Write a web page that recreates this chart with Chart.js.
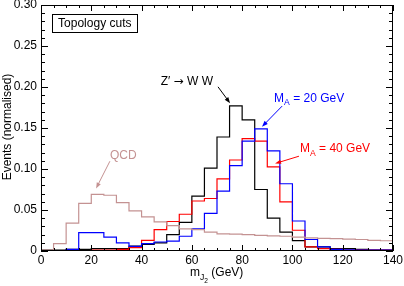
<!DOCTYPE html>
<html lang="en">
<head>
  <meta charset="UTF-8" />
  <title>Jet mass | Topology cuts</title>
  <style>
    html, body {
      margin: 0;
      padding: 0;
      background: #fff;
    }

    .chart-box {
      width: 404px;
      height: 286px;
    }
  </style>
</head>
<body>
  <div class="chart-box">
    <canvas id="massChart" width="404" height="286"></canvas>
  </div>

  <script src="https://cdn.jsdelivr.net/npm/chart.js"></script>
  <script>
    // left edges of the 5 GeV bins, plus the closing edge at 140
    const binEdges = [0, 5, 10, 15, 20, 25, 30, 35, 40, 45, 50, 55, 60, 65, 70,
                      75, 80, 85, 90, 95, 100, 105, 110, 115, 120, 125, 130, 135, 140];

    // normalised event fractions per bin
    const qcdValues = [0.001, 0.009, 0.034, 0.058, 0.069, 0.068, 0.059, 0.049, 0.0415, 0.0355,
                       0.031, 0.027, 0.026, 0.023, 0.021, 0.0205, 0.020, 0.019, 0.0185, 0.018,
                       0.017, 0.016, 0.0155, 0.015, 0.0145, 0.014, 0.013, 0.0125];
    const ma20Values = [0, 0, 0.002, 0.0224, 0.0224, 0.017, 0.0098, 0.0057, 0.009, 0.011,
                        0.012, 0.018, 0.027, 0.046, 0.073, 0.104, 0.134, 0.149, 0.122, 0.082,
                        0.0366, 0.014, 0.005, 0.002, 0.0015, 0.001, 0.001, 0.001];
    const ma40Values = [0, 0, 0, 0, 0.001, 0.001, 0.002, 0.004, 0.013, 0.026,
                        0.036, 0.0448, 0.061, 0.064, 0.088, 0.111, 0.137, 0.134, 0.1026, 0.060,
                        0.0253, 0.005, 0.003, 0.002, 0.001, 0.001, 0.001, 0.001];
    const zwwValues = [0.001, 0.001, 0.002, 0.002, 0.003, 0.003, 0.003, 0.006, 0.008, 0.010,
                       0.020, 0.035, 0.067, 0.101, 0.139, 0.177, 0.160, 0.075, 0.040, 0.023,
                       0.0127, 0.005, 0.005, 0.003, 0.003, 0.002, 0.001, 0.001];

    const xTickValues = [0, 20, 40, 60, 80, 100, 120, 140];
    const xTickLabels = ['0', '20', '40', '60', '80', '100', '120', '140'];
    const yTickValues = [0, 0.05, 0.10, 0.15, 0.20, 0.25, 0.30];
    const yTickLabels = ['0', '0.05', '0.10', '0.15', '0.20', '0.25', '0.30'];

    const QCD_COLOR = '#c49292';
    const FONT = '"Liberation Sans", Arial, Helvetica, sans-serif';
    const SYMBOL_FONT = '"DejaVu Sans", sans-serif';

    // step outline: one point per left edge, last bin repeated at the closing edge
    function toSteps(values) {
      return binEdges.map((edge, i) => ({ x: edge, y: values[Math.min(i, values.length - 1)] }));
    }

    function histo(values, color) {
      return {
        data: toSteps(values),
        borderColor: color,
        borderWidth: 1.2,
        stepped: true,
        pointRadius: 0,
        fill: false
      };
    }

    // text with optional subscripts: parts = [[text, level], ...]
    // level 0 = normal, 1 = subscript, 2 = sub-subscript, 's' = symbol font
    function drawParts(ctx, x, y, parts, size, color) {
      ctx.fillStyle = color;
      ctx.textBaseline = 'alphabetic';
      ctx.textAlign = 'left';
      parts.forEach(([txt, level]) => {
        let s = size, dy = 0, fam = FONT;
        if (level === 1) { s = size * 0.72; dy = size * 0.3; }
        if (level === 2) { s = size * 0.55; dy = size * 0.55; }
        if (level === 's') { fam = SYMBOL_FONT; }
        ctx.font = s + 'px ' + fam;
        ctx.fillText(txt, x, y + dy);
        x += ctx.measureText(txt).width;
      });
    }

    function arrow(ctx, x0, y0, x1, y1, color) {
      const ang = Math.atan2(y1 - y0, x1 - x0);
      const head = 6, half = 2.2;
      ctx.strokeStyle = color;
      ctx.fillStyle = color;
      ctx.lineWidth = 1;
      ctx.beginPath();
      ctx.moveTo(x0, y0);
      ctx.lineTo(x1 - head * 0.8 * Math.cos(ang), y1 - head * 0.8 * Math.sin(ang));
      ctx.stroke();
      ctx.beginPath();
      ctx.moveTo(x1, y1);
      ctx.lineTo(x1 - head * Math.cos(ang) + half * Math.sin(ang), y1 - head * Math.sin(ang) - half * Math.cos(ang));
      ctx.lineTo(x1 - head * Math.cos(ang) - half * Math.sin(ang), y1 - head * Math.sin(ang) + half * Math.cos(ang));
      ctx.closePath();
      ctx.fill();
    }

    // frame with inward ticks on all four sides, axis titles and labels
    const framePlugin = {
      id: 'framePlugin',
      afterDraw(chart) {
        const { ctx, chartArea: a, scales: { x, y } } = chart;
        const px = v => x.getPixelForValue(v);
        const py = v => y.getPixelForValue(v);
        ctx.save();

        ctx.strokeStyle = '#000';
        ctx.lineWidth = 1;
        ctx.strokeRect(a.left + 0.5, a.top + 0.5, a.right - a.left - 1, a.bottom - a.top - 1);

        ctx.beginPath();
        for (let v = 0; v <= 140; v += 5) {
          const xx = Math.round(px(v)) + 0.5;
          const len = v % 20 === 0 ? 6 : 3;
          ctx.moveTo(xx, a.bottom); ctx.lineTo(xx, a.bottom - len);
          ctx.moveTo(xx, a.top); ctx.lineTo(xx, a.top + len);
        }
        for (let i = 0; i <= 30; i++) {
          const yy = Math.round(py(i / 100)) + 0.5;
          const len = i % 5 === 0 ? 7 : 4;
          ctx.moveTo(a.left, yy); ctx.lineTo(a.left + len, yy);
          ctx.moveTo(a.right, yy); ctx.lineTo(a.right - len, yy);
        }
        ctx.stroke();

        // axis titles
        drawParts(ctx, 190, 276, [['m', 0], ['J', 1], ['2', 2], [' (GeV)', 0]], 12, '#000');
        ctx.save();
        ctx.translate(11, 127);
        ctx.rotate(-Math.PI / 2);
        ctx.font = '12px ' + FONT;
        ctx.fillStyle = '#000';
        ctx.textAlign = 'center';
        ctx.textBaseline = 'alphabetic';
        ctx.fillText('Events (normalised)', 0, 0);
        ctx.restore();

        // "Topology cuts" box
        ctx.font = '12px ' + FONT;
        const tx = px(6.8), ty = py(0.2735);
        const tw = ctx.measureText('Topology cuts').width;
        ctx.strokeStyle = '#000';
        ctx.strokeRect(Math.round(tx - 6) + 0.5, Math.round(ty - 13) + 0.5, Math.round(tw + 12), 18);
        drawParts(ctx, tx, ty, [['Topology cuts', 0]], 12, '#000');

        // curve labels
        drawParts(ctx, px(47.6), py(0.2023), [['Z\u2032 ', 0], ['\u2192', 's'], [' W W', 0]], 12, '#000');
        arrow(ctx, px(70.4), py(0.2002), px(75.2), py(0.1803), '#000');

        drawParts(ctx, px(92.7), py(0.182), [['M', 0], ['A', 1], [' = 20 GeV', 0]], 12, '#0000ff');
        arrow(ctx, px(95.9), py(0.1767), px(87.9), py(0.1516), '#0000ff');

        drawParts(ctx, px(103), py(0.1205), [['M', 0], ['A', 1], [' = 40 GeV', 0]], 12, '#ff0000');
        arrow(ctx, px(102.6), py(0.1156), px(93.1), py(0.1067), '#ff0000');

        drawParts(ctx, px(27.4), py(0.1126), [['QCD', 0]], 12, QCD_COLOR);
        arrow(ctx, px(27.4), py(0.1095), px(21.9), py(0.0762), QCD_COLOR);

        ctx.restore();
      }
    };

    Chart.defaults.font.family = FONT;
    Chart.defaults.font.size = 12;
    Chart.defaults.color = '#000';

    new Chart(document.getElementById('massChart').getContext('2d'), {
      type: 'line',
      data: {
        datasets: [
          histo(qcdValues, QCD_COLOR),
          histo(ma20Values, '#0000ff'),
          histo(ma40Values, '#ff0000'),
          histo(zwwValues, '#000000')
        ]
      },
      options: {
        responsive: false,
        animation: false,
        layout: { padding: { top: 5, right: 11, left: 0, bottom: 0 } },
        plugins: {
          legend: { display: false },
          tooltip: { enabled: false }
        },
        scales: {
          x: {
            type: 'linear',
            min: 0,
            max: 140,
            grid: { display: false, drawTicks: false },
            border: { display: false },
            afterBuildTicks: axis => { axis.ticks = xTickValues.map(v => ({ value: v })); },
            afterFit: axis => {
              axis.height = 35;
              axis.paddingLeft = 0;
              axis.paddingRight = 0;
            },
            ticks: {
              padding: 2,
              maxRotation: 0,
              callback: (value, index) => xTickLabels[index]
            }
          },
          y: {
            min: 0,
            max: 0.30,
            grid: { display: false, drawTicks: false },
            border: { display: false },
            afterBuildTicks: axis => { axis.ticks = yTickValues.map(v => ({ value: v })); },
            afterFit: axis => {
              axis.width = 41;
              axis.paddingTop = 0;
              axis.paddingBottom = 0;
            },
            ticks: {
              padding: 4,
              callback: (value, index) => yTickLabels[index]
            }
          }
        }
      },
      plugins: [framePlugin]
    });
  </script>
</body>
</html>
